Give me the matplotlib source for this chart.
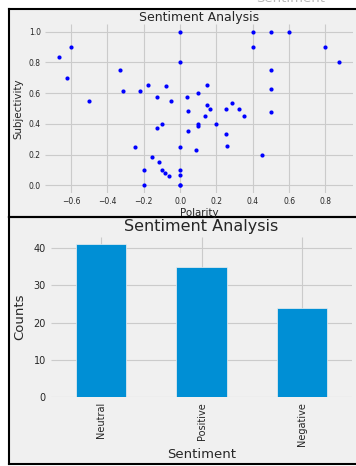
import matplotlib
matplotlib.use("Agg")
import matplotlib.pyplot as plt
from matplotlib.patches import Rectangle
from matplotlib.lines import Line2D

plt.style.use("fivethirtyeight")
plt.rcParams["font.family"] = ["DejaVu Sans"]

# Polarity / subjectivity scores per comment
polarity = [-0.667, -0.6, -0.625, -0.5, -0.333, -0.3125, -0.222, -0.175, -0.125,
            -0.078, -0.05, 0.0, 0.0, 0.04, 0.1, 0.045, -0.1, -0.125, 0.045,
            -0.25, 0.0, 0.09, -0.156, -0.117, -0.2, -0.1, -0.085, -0.0625,
            0.0, 0.0, -0.2, 0.0, 0.0, 0.4, 0.5, 0.6, 0.4, 0.8, 0.875, 0.5,
            0.15, 0.5, 0.15, 0.167, 0.25, 0.285, 0.325, 0.35, 0.5, 0.135,
            0.1, 0.1, 0.2, 0.25, 0.258, 0.45]
subjectivity = [0.833, 0.9, 0.7, 0.55, 0.75, 0.6167, 0.617, 0.65, 0.575,
                0.646, 0.55, 1.0, 0.8, 0.575, 0.6, 0.485, 0.4, 0.375, 0.356,
                0.25, 0.25, 0.227, 0.1875, 0.15, 0.1, 0.1, 0.083, 0.0625,
                0.1, 0.067, 0.0, 0.0, 0.0, 1.0, 1.0, 1.0, 0.9, 0.9, 0.8, 0.75,
                0.65, 0.625, 0.525, 0.5, 0.5, 0.535, 0.5, 0.45, 0.48, 0.453,
                0.4, 0.385, 0.4, 0.333, 0.258, 0.2]

# Sentiment class counts
categories = ["Neutral", "Positive", "Negative"]
counts = [41, 35, 24]

W, H = 356, 466
fig = plt.figure(figsize=(W / 100, H / 100), dpi=100, facecolor="white",
                 edgecolor="white", linewidth=0)


def fx(px):
    return px / W


def fy(py):
    return 1 - py / H


text_color = "#262626"

# Panel backgrounds with black frame on left, top and bottom
for top, bottom in [(8.5, 217), (217, 463.5)]:
    fig.add_artist(Rectangle((fx(8.5), fy(bottom)), 1.05 - fx(8.5), (bottom - top) / H,
                             transform=fig.transFigure, facecolor="#f0f0f0",
                             edgecolor="none", linewidth=0, zorder=-10,
                             clip_on=False))
    frame = dict(transform=fig.transFigure, color="black", linewidth=1.5,
                 solid_capstyle="projecting", zorder=-9, clip_on=False)
    fig.add_artist(Line2D([fx(8.5), 1.05], [fy(top), fy(top)], **frame))
    fig.add_artist(Line2D([fx(8.5), 1.05], [fy(bottom), fy(bottom)], **frame))
    fig.add_artist(Line2D([fx(8.5), fx(8.5)], [fy(top), fy(bottom)], **frame))

# Clipped label left over at the very top
fig.text(fx(291), fy(2.5), "Sentiment", ha="center", va="baseline",
         fontsize=9.5, color="#b8b8b8")

# Scatter: polarity vs subjectivity
ax1 = fig.add_axes([fx(45), fy(193), (353 - 45) / W, (193 - 24) / H])
ax1.scatter(polarity, subjectivity, s=9, color="blue", linewidths=0, zorder=3)
ax1.set_title("Sentiment Analysis", fontsize=9, pad=2.5, color=text_color)
ax1.set_xlabel("Polarity", fontsize=7.4, labelpad=1.5, color=text_color)
ax1.set_ylabel("Subjectivity", fontsize=7.4, labelpad=3.5, color=text_color)
ax1.tick_params(labelsize=5.5, pad=3, colors=text_color)
ax1.grid(True, color="#cbcbcb", linewidth=0.8)

# Bar chart: sentiment counts
ax2 = fig.add_axes([fx(50.75), fy(397.3), (352.3 - 50.75) / W, (397.3 - 236.7) / H])
ax2.bar(categories, counts, width=0.5, color="#008fd5",
        edgecolor="#f0f0f0", linewidth=0.5, zorder=3)
ax2.set_xlim(-0.5, len(categories) - 0.5)
ax2.set_title("Sentiment Analysis", fontsize=11.5, pad=4, color=text_color)
ax2.set_xlabel("Sentiment", fontsize=9.5, labelpad=1.5, color=text_color)
ax2.set_ylabel("Counts", fontsize=9.5, labelpad=5, color=text_color)
ax2.tick_params(labelsize=7, pad=3.5, colors=text_color)
ax2.tick_params(axis="x", labelrotation=90)
ax2.grid(True, color="#cbcbcb", linewidth=0.8)

for ax in (ax1, ax2):
    ax.set_facecolor("#f0f0f0")
    for s in ax.spines.values():
        s.set_visible(False)

fig.savefig("out.png", dpi=100, facecolor="white", edgecolor="white")
